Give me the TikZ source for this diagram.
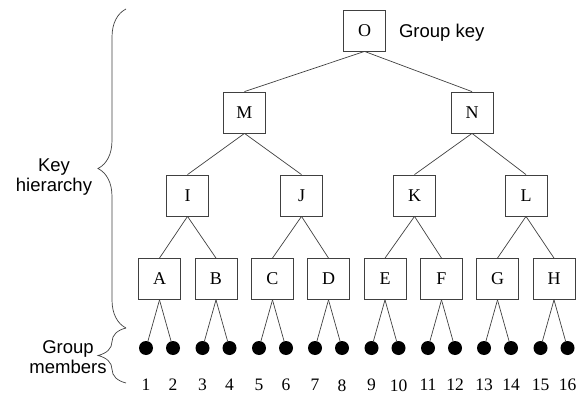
\documentclass[tikz,border=0pt]{standalone}
\usepackage{fontspec}
\setmainfont{Liberation Serif}
\setsansfont{Liberation Sans}
\usepackage{tikz}
\usetikzlibrary{positioning,decorations.pathreplacing}
\tikzstyle{key}=[draw=black!75,line width=0.8pt,minimum width=42pt,minimum height=41pt,inner sep=0pt,font=\fontsize{18}{20}\selectfont]
\tikzstyle{member}=[circle,fill=black,minimum size=14pt,inner sep=0pt]
\tikzstyle{memberno}=[inner sep=0pt,font=\fontsize{17.5}{20}\selectfont]
\tikzstyle{edge}=[draw,black!75,line width=0.7pt,-]
\tikzstyle{side}=[align=center,inner sep=0pt,font=\sffamily\fontsize{18.5}{20}\selectfont]
\tikzstyle{bracket}=[draw,black!75,line width=0.7pt,decorate,decoration={brace,amplitude=28pt}]

\begin{document}
\begin{tikzpicture}[x=1pt,y=-1pt]
    \useasboundingbox (0,0) rectangle (584,396);
    % First we draw the key tree
    \foreach \pos/\name in {{(364.5,30.5)/O}, {(244.5,112.5)/M}, {(472,112.5)/N},
        {(187.5,195.5)/I}, {(301.5,195.5)/J}, {(414.5,195.5)/K}, {(526,195.5)/L}}
        \node[key] (\name) at \pos {\name};

    \foreach \pos/\name in {{(159.5,279)/A}, {(216,279)/B}, {(272.5,279)/C}, {(328.5,279)/D},
        {(385,279)/E}, {(441.5,279)/F}, {(497.5,279)/G}, {(554,279)/H}}
        \node[key] (\name) at \pos {\name};

    \node[side, right=13pt of O, yshift=-2pt] (gkey) {Group key};

    % Connect the keys
    \foreach \source/ \dest in {O/M, O/N, M/I, M/J, N/K, N/L, I/A, I/B, J/C, J/D, K/E, K/F, L/G, L/H}
        \path[edge] (\source.south) -- (\dest.north);

    % Members below the leaf keys
    \foreach \p/\a/\b in {A/1/2, B/3/4, C/5/6, D/7/8, E/9/10, F/11/12, G/13/14, H/15/16} {
        \path (\p) ++(-13.5,69) node[member] (m\a) {};
        \path (\p) ++(13.5,69) node[member] (m\b) {};
        \node[memberno, below=24pt of m\a] (n\a) {\a};
        \node[memberno, below=24pt of m\b] (n\b) {\b};
        \path[edge] (\p.south) -- (m\a);
        \path[edge] (\p.south) -- (m\b);
    }

    % Braces on the left
    \coordinate (bt) at (126,9);
    \coordinate (bm) at (126,328);
    \coordinate (bb) at (126,383);
    \path[bracket] (bm) -- (bt);
    \path[bracket] (bb) -- (bm);
    \node[side] (hier) at (54,177) {Key\\hierarchy};
    \node[side] (grp) at (68,357) {Group\\members};
\end{tikzpicture}
\end{document}
